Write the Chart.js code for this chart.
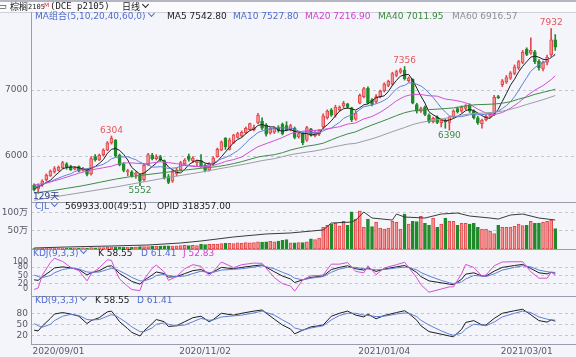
<!DOCTYPE html>
<html><head><meta charset="utf-8">
<script src="https://cdn.jsdelivr.net/npm/chart.js"></script>
<style>
html,body{margin:0;padding:0;background:#f4f5fa;}
#wrap{position:relative;width:576px;height:357px;overflow:hidden;background:#f4f5fa;font-family:"DejaVu Sans","Noto Sans CJK SC",sans-serif;}
#wrap canvas{position:absolute;left:0;}
.t{position:absolute;white-space:nowrap;font-size:9px;line-height:11px;}
.ln{position:absolute;}
.b{color:#4f6bd0}.k{color:#222}.m{color:#d041d0}.g{color:#3a8a3f}.gr{color:#8d8f98}
.cv{display:inline-block;width:4px;height:4px;border-right:1px solid currentColor;border-bottom:1px solid currentColor;transform:rotate(45deg);margin:0 2px 0 3px;position:relative;top:-3px;}
</style></head><body><div id="wrap">
<div class="ln" style="left:0;top:0;width:576px;height:2px;background:#b4b6c2"></div>
<div class="ln" style="left:0;top:2px;width:576px;height:10px;background:#fbfbfd"></div>
<canvas id="cMain" width="576" height="189" style="top:13px"></canvas>
<canvas id="cVol" width="576" height="47" style="top:202px"></canvas>
<canvas id="cKdj" width="576" height="47" style="top:249px"></canvas>
<canvas id="cKd" width="576" height="61" style="top:296px"></canvas>
<div class="ln" style="left:0;top:12px;width:576px;height:1px;background:#cfd0da"></div>
<div class="ln" style="left:31px;top:12px;width:1px;height:332px;background:#9a9cab"></div>
<div class="ln" style="left:31px;top:202px;width:545px;height:1px;background:#9a9cab"></div>
<div class="ln" style="left:31px;top:249px;width:545px;height:1px;background:#9a9cab"></div>
<div class="ln" style="left:31px;top:296px;width:545px;height:1px;background:#9a9cab"></div>
<div class="ln" style="left:31px;top:344px;width:545px;height:1px;background:#9a9cab"></div>

<div class="t k" style="left:-2px;top:1px">▭</div>
<div class="t k" style="left:10px;top:1px;font-family:'Noto Sans CJK SC'">棕榈</div>
<div class="t k" style="left:28px;top:2px;font-family:'DejaVu Sans Mono';font-size:7px">2105</div>
<div class="t" style="left:44px;top:-1px;font-size:6px;color:#e03030">M</div>
<div class="t k" style="left:50px;top:1px;font-family:'DejaVu Sans Mono'">(DCE p2105)</div>
<div class="t k" style="left:122px;top:1px;font-family:'Noto Sans CJK SC'">日线<span class="cv"></span></div>

<div class="t b" style="left:35px;top:10.5px">MA组合(5,10,20,40,60,0)<span class="cv"></span></div>
<div class="t k" style="left:167px;top:10.5px">MA5 7542.80</div>
<div class="t b" style="left:233px;top:10.5px">MA10 7527.80</div>
<div class="t m" style="left:305px;top:10.5px">MA20 7216.90</div>
<div class="t g" style="left:378px;top:10.5px">MA40 7011.95</div>
<div class="t gr" style="left:452px;top:10.5px">MA60 6916.57</div>
<div class="t" style="left:33px;top:191px;color:#2e3f8f">129天</div>

<div class="t b" style="left:35px;top:200.5px">CJL<span class="cv"></span></div>
<div class="t k" style="left:65px;top:200.5px">569933.00(49:51)</div>
<div class="t k" style="left:157px;top:200.5px">OPID 318357.00</div>

<div class="t b" style="left:33px;top:247.5px">KDJ(9,3,3)<span class="cv"></span></div>
<div class="t k" style="left:98px;top:247.5px">K 58.55</div>
<div class="t b" style="left:141px;top:247.5px">D 61.41</div>
<div class="t m" style="left:183px;top:247.5px">J 52.83</div>

<div class="t b" style="left:35px;top:294.5px">KD(9,3,3)<span class="cv"></span></div>
<div class="t k" style="left:95px;top:294.5px">K 58.55</div>
<div class="t b" style="left:137px;top:294.5px">D 61.41</div>
</div>
<script>
// ---------- data ----------
const openP = [5560,5500,5560,5640,5700,5760,5780,5820,5880,5840,
 5800,5840,5780,5800,5730,5990,5940,6020,6090,6200,
 6240,6010,5880,5760,5760,5720,5720,5640,5870,6010,
 5960,5990,5930,5690,5620,5730,5790,5880,6000,5930,
 5900,5930,5860,5790,5880,5990,6090,6270,6100,6200,
 6280,6300,6350,6400,6400,6500,6530,6470,6350,6360,
 6430,6480,6460,6400,6420,6290,6340,6240,6410,6310,
 6330,6440,6580,6700,6620,6700,6760,6790,6730,6560,
 6800,6900,7030,6850,6820,6900,6990,7070,7090,7220,
 7270,7300,7140,7160,6780,6680,6740,6620,6520,6590,
 6500,6530,6510,6600,6720,6680,6720,6780,6680,6580,
 6490,6550,6600,6630,6900,7080,7120,7180,7250,7330,
 7420,7620,7560,7580,7440,7320,7420,7530,7760];
const highP = [5580,5580,5640,5730,5790,5840,5850,5920,5900,5860,
 5840,5850,5830,5810,5990,6020,6030,6110,6220,6304,
 6250,6030,5900,5800,5780,5760,5730,5880,6040,6040,
 6020,6010,5940,5720,5790,5820,5920,5960,6030,5990,
 5940,6020,5880,5900,5990,6120,6230,6280,6270,6330,
 6360,6380,6440,6500,6470,6646,6580,6490,6430,6440,
 6460,6500,6520,6480,6440,6360,6360,6450,6420,6380,
 6400,6640,6700,6720,6770,6760,6830,6800,6740,6680,
 6940,7040,7050,6870,6930,7000,7110,7150,7270,7300,
 7330,7356,7200,7170,6800,6740,6760,6640,6590,6610,
 6560,6560,6600,6700,6740,6760,6780,6790,6700,6600,
 6560,6620,6640,6920,6920,7160,7220,7280,7380,7450,
 7600,7640,7790,7600,7460,7440,7530,7932,7840];
const lowP = [5470,5434,5540,5620,5690,5740,5770,5810,5800,5780,
 5790,5760,5770,5700,5710,5920,5930,6000,6080,6180,
 5980,5850,5760,5700,5680,5660,5552,5620,5860,5940,
 5940,5920,5650,5580,5600,5700,5770,5860,5920,5900,
 5840,5830,5760,5770,5860,5980,6080,6100,6090,6190,
 6270,6290,6340,6390,6380,6490,6400,6300,6330,6340,
 6360,6320,6380,6380,6260,6270,6170,6220,6300,6290,
 6310,6420,6560,6600,6590,6680,6730,6720,6520,6540,
 6790,6880,6790,6760,6800,6880,6970,7050,7070,7200,
 7250,7150,7120,6790,6650,6660,6610,6500,6500,6490,
 6440,6420,6390,6580,6650,6660,6700,6660,6560,6480,
 6420,6530,6580,6610,6870,7050,7100,7160,7230,7310,
 7400,7520,7540,7400,7300,7290,7380,7500,7600];
const closeP = [5490,5560,5620,5710,5770,5810,5830,5900,5830,5790,
 5820,5770,5810,5720,5960,5940,6010,6090,6200,6270,
 6000,5870,5780,5780,5700,5740,5620,5860,6020,5960,
 5990,5940,5670,5600,5760,5790,5900,5940,5950,5970,
 5920,5850,5780,5880,5970,6100,6210,6140,6240,6320,
 6340,6360,6420,6490,6430,6620,6420,6330,6410,6420,
 6380,6340,6400,6460,6280,6340,6200,6430,6320,6360,
 6390,6610,6680,6620,6740,6740,6800,6740,6550,6650,
 6920,7020,6810,6780,6900,6980,7090,7130,7250,7280,
 7310,7170,7180,6800,6680,6720,6630,6520,6570,6510,
 6540,6520,6590,6680,6670,6740,6760,6680,6580,6500,
 6540,6600,6630,6890,6880,7140,7190,7260,7350,7430,
 7570,7540,7600,7430,7340,7420,7500,7760,7650];

const ma5 = [5510,5530,5560,5600,5630,5694,5748,5804,5828,5832,
 5834,5822,5804,5782,5816,5840,5888,5944,6040,6102,
 6114,6086,6024,5940,5826,5774,5724,5740,5788,5840,
 5890,5954,5916,5832,5792,5752,5744,5798,5868,5910,
 5936,5926,5894,5880,5880,5916,5988,6060,6132,6202,
 6250,6280,6336,6386,6408,6464,6476,6458,6442,6440,
 6392,6376,6390,6400,6372,6364,6336,6342,6314,6330,
 6340,6422,6472,6532,6608,6678,6716,6728,6714,6696,
 6732,6776,6790,6836,6886,6898,6912,6976,7070,7146,
 7212,7228,7238,7148,7028,6910,6802,6670,6624,6590,
 6554,6532,6546,6568,6600,6640,6688,6706,6686,6652,
 6612,6580,6570,6632,6708,6828,6946,7072,7164,7274,
 7360,7430,7498,7514,7496,7466,7458,7490,7543];
const ma10 = [5520,5540,5565,5590,5610,5640,5665,5690,5712,5731,
 5764,5785,5804,5805,5824,5837,5855,5874,5911,5959,
 5977,5987,5984,5990,5964,5944,5905,5882,5864,5833,
 5832,5839,5828,5810,5816,5821,5849,5857,5850,5851,
 5844,5835,5846,5874,5895,5926,5957,5977,6006,6041,
 6083,6134,6198,6259,6305,6357,6378,6397,6414,6424,
 6428,6426,6424,6421,6406,6378,6356,6366,6357,6351,
 6352,6379,6407,6423,6469,6509,6569,6600,6623,6652,
 6705,6746,6759,6775,6791,6815,6844,6883,6953,7016,
 7055,7070,7107,7109,7087,7061,7015,6954,6886,6809,
 6732,6667,6608,6596,6595,6597,6610,6626,6627,6626,
 6626,6634,6638,6659,6680,6720,6763,6821,6898,6991,
 7094,7188,7285,7339,7385,7413,7444,7494,7528];
const ma20Idx = [0,3,7,11,15,17,19,21,23,25,27,29,31,33,35,37,39,41,43,45,47,49,51,53,55,57,59,61,63,65,67,69,71,73,75,77,79,81,83,85,87,89,91,93,95,97,99,101,103,105,107,109,111,113,115,117,119,121,123,125,127,128];
const ma20 = [5560,5590,5660,5740,5800,5822,5845,5886,5898,5891,5878,5896,5913,5900,5883,5870,5842,5837,5842,5874,5917,5946,5985,6067,6142,6187,6233,6280,6340,6368,6382,6388,6403,6422,6444,6483,6502,6563,6599,6662,6742,6836,6903,6936,6932,6913,6907,6863,6847,6823,6784,6710,6650,6628,6659,6724,6809,6911,6999,7067,7158,7217];
const ma40Idx = [0,4,8,12,16,20,24,28,32,36,39,41,43,45,47,49,51,53,55,57,59,61,63,65,67,69,71,73,75,77,79,81,83,85,87,89,91,93,95,97,99,101,103,105,107,109,111,113,115,117,119,121,123,125,127,128];
const ma40 = [5440,5470,5510,5550,5600,5650,5690,5720,5750,5780,5800,5815,5825,5840,5860,5885,5915,5950,5985,6005,6020,6050,6091,6121,6149,6167,6194,6244,6293,6335,6367,6421,6470,6515,6562,6612,6656,6685,6694,6704,6710,6719,6729,6749,6769,6779,6782,6788,6800,6823,6862,6893,6935,6965,6995,7012];
const ma60Idx = [0,4,8,12,16,20,24,28,32,36,40,44,48,52,56,59,61,63,65,67,69,71,73,75,77,79,81,83,85,87,89,91,93,95,97,99,101,103,105,107,109,111,113,115,117,119,121,123,125,127,128];
const ma60 = [5330,5370,5410,5450,5490,5530,5575,5620,5665,5705,5745,5790,5835,5880,5930,5960,5990,6020,6040,6059,6077,6100,6130,6156,6180,6192,6227,6260,6301,6347,6390,6431,6477,6508,6530,6549,6570,6597,6620,6638,6646,6654,6664,6680,6708,6741,6781,6817,6853,6895,6917];

const volWan = [1.5,1.2,1.8,2.0,2.4,2.2,2.6,2.3,2.8,2.5,
 2.7,2.4,3.0,2.8,4.0,3.5,3.8,4.2,5.0,6.0,
 5.5,5.0,4.5,4.8,4.6,5.2,6.5,6.8,7.0,7.5,
 7.2,8.0,9.0,8.5,8.0,8.8,9.5,10.0,9.6,10.5,
 9.8,14.0,12.0,13.0,13.5,14.0,15.0,15.5,16.0,15.0,
 17.0,16.0,18.0,17.0,18.0,20.0,19.0,20.0,21.0,20.0,
 22.0,24.0,26.0,17.0,17.0,18.0,18.0,20.0,28.0,26.0,
 30.0,60,66,69,71,64,77,66,103,83,
 106,60,83,62,74,58,55,58,77,74,
 55,97,69,77,76,91,71,66,86,60,
 69,86,77,77,66,71,71,69,71,60,
 55,55,50,43,66,60,60,61,63,69,
 65,66,77,71,72,74,77,80,56.99];
const oiIdx = [0,8,19,28,36,41,49,57,63,71,73,78,79,81,83,88,89,91,96,100,104,107,112,114,117,120,124,128];
const oiVals = [11000,22000,33000,44000,66000,88000,132000,165000,176000,209000,285000,296000,318000,406000,340000,318000,384000,351000,340000,384000,395000,362000,340000,329000,373000,384000,340000,318357];

const kdIdx = [0,1,2,4,5,7,9,11,13,14,16,18,19,20,21,23,24,26,27,29,30,32,33,35,37,39,41,43,44,46,49,51,54,56,59,61,63,64,66,68,70,71,73,75,77,79,81,82,84,86,89,91,92,94,95,97,100,102,103,105,106,108,110,111,113,115,118,120,122,124,126,127,128];
const kVals = [34,32,45,66,78,82,78,72,52,60,68,84,86,72,57,38,28,18,32,52,63,57,44,46,57,68,72,57,63,80,75,80,86,89,64,48,37,24,34,43,46,48,72,80,86,75,70,78,65,74,82,87,80,61,46,30,23,18,16,36,55,60,48,48,66,80,87,91,76,60,56,62,58.55];
const dVals = [52,46,42,50,60,72,77,74,63,62,63,72,76,74,67,52,43,30,30,40,50,54,50,46,48,57,66,61,62,70,73,75,81,86,75,62,50,40,34,40,44,46,62,74,80,80,75,74,71,72,78,81,80,71,61,48,32,23,20,26,37,50,48,46,56,70,80,86,82,70,64,62,61.41];
const jVals = [-2,4,51,98,114,102,80,68,30,56,78,108,106,68,37,10,-2,-6,36,76,89,63,32,46,75,90,84,49,65,100,79,90,96,95,42,20,11,-8,34,49,50,52,92,92,98,65,60,86,53,78,90,99,80,41,16,-12,0,8,8,56,91,80,48,52,86,100,101,101,64,40,40,62,52.83];

const peakIdx = [19, 91, 127];
const troughIdx = [26, 102];
const dateTickIdx = [6, 42, 86, 121];
const dateTickLabels = ['2020/09/01', '2020/11/02', '2021/01/04', '2021/03/01'];
const priceTicks = [6000, 7000];
const volTicks = [50, 100];
const kdjTicks = [0, 20, 50, 80, 100];
const kdTicks = [20, 50, 80];

// ---------- styling / helpers ----------
Chart.defaults.font.family = '"DejaVu Sans", "Noto Sans CJK SC", sans-serif';
Chart.defaults.font.size = 9;
Chart.defaults.color = '#555966';
Chart.defaults.animation = false;

const col = {upFill:'#f39494', upLine:'#e3474b', dn:'#1f8a2a', blk:'#1e1e1e', blue:'#5f7fd6', mag:'#d24fd2', grn:'#3f8a46', gray:'#9a9ca4', grid:'#c3c5d2'};
const X_MIN = -0.76, X_MAX = 133.1;
const idxAll = closeP.map((_, i) => i);
const upBar = idxAll.map(i => closeP[i] >= openP[i]);

function xScale(show) {
  const s = {
    type:'linear', min:X_MIN, max:X_MAX, offset:false, display:show,
    grid:{display:false, drawTicks:false}, border:{display:false},
    ticks: show ? {autoSkip:false, maxRotation:0, minRotation:0, padding:2, color:'#555966', font:{size:9},
      callback:(v) => { const k = dateTickIdx.indexOf(v); return k >= 0 ? dateTickLabels[k] : ''; }} : {display:false},
    afterFit:(sc) => { sc.height = show ? 13 : 0; sc.paddingLeft = 0; sc.paddingRight = 0; sc.paddingTop = 0; sc.paddingBottom = 0; }
  };
  if (show) s.afterBuildTicks = (sc) => { sc.ticks = dateTickIdx.map(v => ({value:v})); };
  return s;
}
function yScale(min, max, ticks, fmt, gridVals, fs) {
  return {
    type:'linear', position:'left', min, max,
    grid:{drawTicks:false, lineWidth:1, color:(c) => (c.tick && gridVals.includes(c.tick.value)) ? col.grid : 'rgba(0,0,0,0)'},
    border:{display:false, dash:[3,3]},
    ticks:{autoSkip:false, padding:3, color:'#555966', font:{size:fs || 9}, callback:fmt},
    afterBuildTicks:(sc) => { sc.ticks = ticks.map(v => ({value:v})); },
    afterFit:(sc) => { sc.width = 31; sc.paddingTop = 0; sc.paddingBottom = 0; sc.paddingLeft = 0; sc.paddingRight = 0; }
  };
}
function opts(scales) {
  return {responsive:false, animation:false, events:[], layout:{padding:0},
    plugins:{legend:{display:false}, tooltip:{enabled:false}}, scales};
}
function lineDS(idx, vals, color, axis) {
  return {type:'line', data: idx.map((x, k) => ({x, y: vals[k]})), borderColor:color, borderWidth:1,
    pointRadius:0, tension:0, fill:false, order:1, yAxisID: axis || 'y'};
}

const extremaPlugin = {
  id:'extrema',
  afterDatasetsDraw(chart) {
    const {ctx, scales:{x, y}} = chart;
    ctx.save();
    ctx.font = '9px "DejaVu Sans"';
    ctx.textAlign = 'center';
    ctx.fillStyle = '#e4575a'; ctx.textBaseline = 'bottom';
    peakIdx.forEach(i => ctx.fillText(String(highP[i]), x.getPixelForValue(i), y.getPixelForValue(highP[i]) - 1));
    ctx.fillStyle = '#3d8a45'; ctx.textBaseline = 'top';
    troughIdx.forEach(i => ctx.fillText(String(lowP[i]), x.getPixelForValue(i), y.getPixelForValue(lowP[i]) + 1));
    ctx.restore();
  }
};

// ---------- main price pane ----------
new Chart(document.getElementById('cMain'), {
  type:'bar',
  data:{datasets:[
    {data: idxAll.map(i => ({x:i, y:[lowP[i], highP[i]]})), backgroundColor: idxAll.map(i => upBar[i] ? col.upLine : col.dn),
     barThickness:1, grouped:false, order:3},
    {data: idxAll.map(i => ({x:i, y:[openP[i], closeP[i]]})), backgroundColor: idxAll.map(i => upBar[i] ? col.upFill : col.dn),
     borderColor: idxAll.map(i => upBar[i] ? col.upLine : col.dn), borderWidth:1, borderSkipped:false, barThickness:3, grouped:false, order:2},
    lineDS(ma60Idx, ma60, col.gray),
    lineDS(ma40Idx, ma40, col.grn),
    lineDS(ma20Idx, ma20, col.mag),
    lineDS(idxAll, ma10, col.blue),
    lineDS(idxAll, ma5, col.blk)
  ]},
  options: opts({x: xScale(false), y: yScale(5303, 8167, priceTicks, v => String(v), priceTicks)}),
  plugins:[extremaPlugin]
});

// ---------- volume / open interest pane ----------
new Chart(document.getElementById('cVol'), {
  type:'bar',
  data:{datasets:[
    {data: idxAll.map(i => ({x:i, y: volWan[i]})), backgroundColor: idxAll.map(i => upBar[i] ? col.upFill : col.dn),
     borderColor: idxAll.map(i => upBar[i] ? col.upLine : col.dn), borderWidth:1, borderSkipped:false, barThickness:3, grouped:false, order:2},
    lineDS(oiIdx, oiVals, '#3a3a3a', 'oi')
  ]},
  options: opts({x: xScale(false), y: yScale(0, 130.5, volTicks, v => v + '万', volTicks),
    oi:{type:'linear', display:false, min:0, max:516000}})
});

// ---------- KDJ pane ----------
new Chart(document.getElementById('cKdj'), {
  type:'line',
  data:{datasets:[
    lineDS(kdIdx, jVals, col.mag),
    lineDS(kdIdx, dVals, col.blue),
    lineDS(kdIdx, kVals, col.blk)
  ]},
  options: opts({x: xScale(false), y: yScale(-25.9, 148.1, kdjTicks, v => String(v), [20, 50, 80], 8)})
});

// ---------- KD pane ----------
new Chart(document.getElementById('cKd'), {
  type:'line',
  data:{datasets:[
    lineDS(kdIdx, dVals, col.blue),
    lineDS(kdIdx, kVals, col.blk)
  ]},
  options: opts({x: xScale(true), y: yScale(-3.8, 127.2, kdTicks, v => String(v), kdTicks)})
});
</script>
</body></html>
